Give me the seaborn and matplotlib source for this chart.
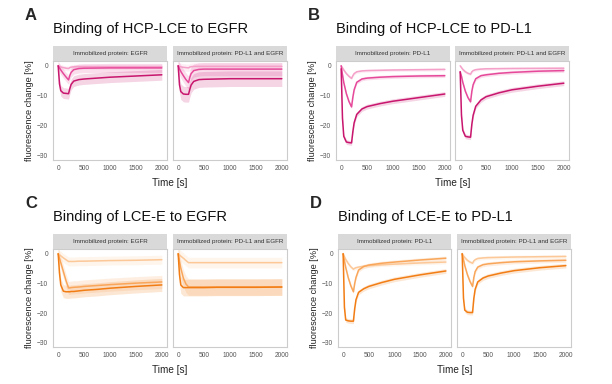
import numpy as np
import pandas as pd
import matplotlib
matplotlib.use('Agg')
import matplotlib.pyplot as plt
import seaborn as sns

sns.set_style('white')
plt.rcParams['font.family'] = ['Liberation Sans', 'DejaVu Sans']

# time points of the fitted curves [s]
time_s = [0, 25, 50, 100, 150, 200, 225, 250, 300, 400, 500, 750, 1000, 1500, 2000]

# fitted curves (fluorescence change in %), three concentrations per facet: low, mid, high
a_egfr_low = [0, -0.2, -0.4, -0.6, -0.8, -0.9, -0.6, -0.45, -0.35, -0.3, -0.3, -0.3, -0.3, -0.3, -0.3]
a_egfr_mid = [0, -0.7, -1.4, -2.6, -3.7, -4.7, -3.2, -2.2, -1.3, -0.9, -0.8, -0.75, -0.7, -0.7, -0.7]
a_egfr_high = [0, -6.0, -8.3, -9.1, -9.2, -9.3, -7.6, -6.2, -5.1, -4.6, -4.4, -4.1, -3.8, -3.4, -3.0]
a_both_low = [0, -0.2, -0.35, -0.5, -0.6, -0.7, -0.4, -0.3, -0.2, -0.2, -0.2, -0.2, -0.2, -0.2, -0.2]
a_both_mid = [0, -1.0, -1.9, -3.3, -4.6, -5.6, -3.8, -2.6, -1.6, -1.2, -1.1, -1.1, -1.1, -1.1, -1.1]
a_both_high = [0, -6.3, -8.6, -9.4, -9.5, -9.5, -7.8, -6.4, -5.2, -4.6, -4.5, -4.4, -4.3, -4.3, -4.3]

b_pdl1_low = [0, -0.7, -1.4, -2.6, -3.5, -4.2, -3.3, -2.6, -2.0, -1.7, -1.6, -1.5, -1.4, -1.3, -1.2]
b_pdl1_mid = [0, -3.0, -5.6, -9.3, -11.9, -13.7, -10.5, -8.0, -5.5, -4.4, -4.1, -3.8, -3.6, -3.4, -3.3]
b_pdl1_high = [-1.0, -17.5, -23.5, -25.4, -25.6, -25.7, -22.0, -19.0, -16.2, -14.4, -13.6, -12.6, -11.8, -10.6, -9.4]
b_both_low = [0, -0.6, -1.2, -2.0, -2.5, -2.8, -2.0, -1.6, -1.3, -1.1, -1.0, -0.95, -0.9, -0.85, -0.8]
b_both_mid = [-2.0, -3.5, -5.5, -8.5, -10.6, -12.0, -8.5, -6.3, -4.3, -3.3, -3.0, -2.5, -2.2, -1.8, -1.6]
b_both_high = [-2.0, -16.5, -21.5, -23.5, -23.7, -23.8, -19.5, -16.5, -13.5, -11.4, -10.3, -9.0, -8.0, -6.8, -5.8]

c_egfr_low = [0, -0.4, -0.7, -1.4, -2.0, -2.6, -2.6, -2.6, -2.6, -2.5, -2.5, -2.4, -2.3, -2.2, -2.0]
c_egfr_mid = [0, -1.5, -3.0, -6.0, -9.0, -11.5, -11.5, -11.4, -11.3, -11.2, -11.0, -10.7, -10.4, -9.9, -9.5]
c_egfr_high = [0, -6.5, -10.5, -12.6, -12.8, -12.8, -12.8, -12.7, -12.7, -12.5, -12.3, -12.0, -11.6, -11.0, -10.5]
c_both_low = [0, -0.4, -0.8, -1.5, -2.3, -3.0, -3.0, -3.0, -3.0, -3.0, -3.0, -3.0, -3.0, -3.0, -3.0]
c_both_mid = [0, -2.5, -4.8, -8.2, -10.2, -11.2, -11.2, -11.2, -11.2, -11.2, -11.2, -11.2, -11.2, -11.2, -11.2]
c_both_high = [0, -7.0, -10.5, -11.4, -11.4, -11.4, -11.4, -11.4, -11.4, -11.4, -11.4, -11.3, -11.3, -11.3, -11.2]

d_pdl1_low = [0, -1.0, -1.9, -3.3, -4.4, -5.2, -4.9, -4.7, -4.5, -4.2, -4.0, -3.7, -3.5, -3.1, -2.8]
d_pdl1_mid = [0, -2.4, -4.6, -8.1, -10.8, -12.8, -10.0, -8.0, -5.5, -4.3, -3.8, -3.2, -2.8, -2.1, -1.5]
d_pdl1_high = [0, -18.0, -22.3, -22.6, -22.7, -22.7, -18.5, -15.5, -13.0, -11.8, -11.0, -9.7, -8.6, -7.1, -5.8]
d_both_low = [0, -0.7, -1.3, -2.2, -2.8, -3.2, -2.4, -2.0, -1.6, -1.4, -1.3, -1.2, -1.1, -1.0, -0.9]
d_both_mid = [0, -2.0, -4.0, -7.0, -9.3, -11.0, -8.0, -6.0, -4.5, -3.7, -3.4, -3.0, -2.7, -2.4, -2.2]
d_both_high = [0, -15.0, -19.0, -19.7, -19.8, -19.8, -15.0, -12.0, -9.5, -8.2, -7.5, -6.5, -5.7, -4.7, -4.0]

# approximate spread of the raw traces around each fit (+/- %)
a_spread = [[0.8, 1.5, 1.8], [1.2, 2.2, 2.6]]
b_spread = [[0.5, 0.6, 0.8], [0.5, 0.6, 0.8]]
c_spread = [[1.5, 2.2, 2.2], [1.8, 2.8, 2.8]]
d_spread = [[0.6, 0.7, 0.8], [0.6, 0.7, 0.8]]

titles = ['Binding of HCP-LCE to EGFR', 'Binding of HCP-LCE to PD-L1',
          'Binding of LCE-E to EGFR', 'Binding of LCE-E to PD-L1']
panel_letters = ['A', 'B', 'C', 'D']
strips = [['Immobilized protein: EGFR', 'Immobilized protein: PD-L1 and EGFR'],
          ['Immobilized protein: PD-L1', 'Immobilized protein: PD-L1 and EGFR'],
          ['Immobilized protein: EGFR', 'Immobilized protein: PD-L1 and EGFR'],
          ['Immobilized protein: PD-L1', 'Immobilized protein: PD-L1 and EGFR']]
curves = [[[a_egfr_low, a_egfr_mid, a_egfr_high], [a_both_low, a_both_mid, a_both_high]],
          [[b_pdl1_low, b_pdl1_mid, b_pdl1_high], [b_both_low, b_both_mid, b_both_high]],
          [[c_egfr_low, c_egfr_mid, c_egfr_high], [c_both_low, c_both_mid, c_both_high]],
          [[d_pdl1_low, d_pdl1_mid, d_pdl1_high], [d_both_low, d_both_mid, d_both_high]]]
spreads = [a_spread, b_spread, c_spread, d_spread]
conc_names = ['low', 'mid', 'high']

pink = ['#f4a0c8', '#e6499a', '#c8156d']
orange = ['#fcc898', '#f9a65a', '#f27d14']
palettes = [pink, pink, orange, orange]

W, H = 612, 384
fig = plt.figure(figsize=(W / 100, H / 100), dpi=100)


def px_axes(x0, y0, x1, y1):
    return fig.add_axes([x0 / W, 1 - y1 / H, (x1 - x0) / W, (y1 - y0) / H])


# panel boxes in pixels: (left facet x0, x1), (right facet x0, x1), strip top, panel top, panel bottom
layout = [((53, 167), (173, 287), 46, 61, 160),
          ((336, 450), (455, 569), 46, 61, 160),
          ((53, 167), (173, 287), 234, 249, 347),
          ((338, 451), (457, 571), 234, 249, 347)]

for p in range(4):
    (l0, l1), (r0, r1), s_top, p_top, p_bot = layout[p]
    pal = palettes[p]
    for f, (x0, x1) in enumerate([(l0, l1), (r0, r1)]):
        ax = px_axes(x0, p_top, x1, p_bot)
        rows = []
        for c in range(3):
            vals = curves[p][f][c]
            sp = spreads[p][f][c]
            ax.fill_between(time_s, np.array(vals) - sp, np.array(vals) + sp,
                            color=pal[c], alpha=0.18, lw=0)
            for t, v in zip(time_s, vals):
                rows.append({'time': t, 'value': v, 'conc': conc_names[c]})
        df = pd.DataFrame(rows)
        sns.lineplot(data=df, x='time', y='value', hue='conc', hue_order=conc_names,
                     palette=pal, legend=False, lw=1.1, ax=ax)
        ax.set_xlim(-100, 2100)
        ax.set_ylim(-31.4, 1.6)
        ax.set_xticks([0, 500, 1000, 1500, 2000])
        ax.set_yticks([0, -10, -20, -30])
        ax.set_xlabel('')
        ax.set_ylabel('')
        ax.tick_params(labelsize=4.8, colors='#555555', length=2, width=0.5, pad=1.5)
        ax.tick_params(axis='both', color='#999999')
        for s in ax.spines.values():
            s.set_edgecolor('#cccccc')
            s.set_linewidth(0.8)
        if f == 1:
            ax.set_yticklabels([])
            ax.tick_params(axis='y', length=0)
        else:
            ax.set_ylabel('fluorescence change [%]', fontsize=6.6, labelpad=2, color='#222222')
        sax = px_axes(x0, s_top, x1, p_top)
        sax.set_facecolor('#d9d9d9')
        sax.set_xticks([])
        sax.set_yticks([])
        for s in sax.spines.values():
            s.set_visible(False)
        sax.text(0.5, 0.5, strips[p][f], ha='center', va='center', fontsize=4.5,
                 color='#333333', transform=sax.transAxes)
    fig.text(l0 / W, 1 - (s_top - 16.5) / H, titles[p], fontsize=10.5,
             ha='left', va='center', color='#111111')
    fig.text((l0 - 22) / W, 1 - (s_top - 31) / H, panel_letters[p], fontsize=12,
             fontweight='bold', ha='center', va='center')
    fig.text((l0 + r1) / 2 / W, 1 - (p_bot + 23) / H, 'Time [s]', fontsize=7.2,
             ha='center', va='center', color='#222222')

fig.savefig('out.png', dpi=100)
